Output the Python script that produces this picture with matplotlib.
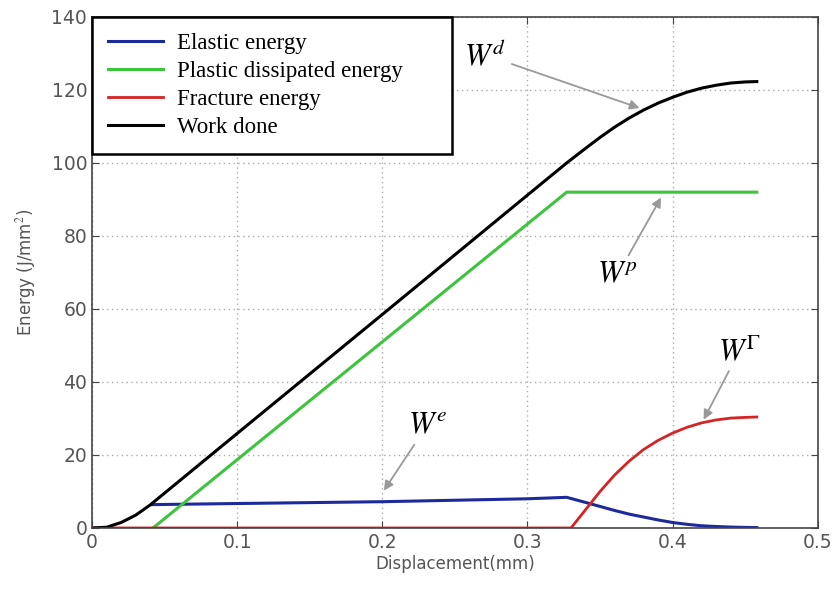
import matplotlib.pyplot as plt

# Energy curves vs displacement (values in J/mm^2)
x_work = [0, 0.01, 0.02, 0.03, 0.04, 0.1, 0.2, 0.3, 0.327, 0.34, 0.35, 0.36,
          0.37, 0.38, 0.39, 0.40, 0.41, 0.42, 0.43, 0.44, 0.45, 0.458]
work_done = [0, 0.2, 1.5, 3.5, 6.3, 25.9, 58.5, 91.2, 100, 104.0, 107.0, 109.8,
             112.3, 114.5, 116.4, 118.0, 119.4, 120.5, 121.3, 121.9, 122.2, 122.3]

x_plastic = [0.042, 0.327, 0.458]
plastic = [0, 92, 92]

x_elastic = [0.041, 0.1, 0.2, 0.3, 0.327, 0.34, 0.35, 0.36, 0.37, 0.38, 0.39,
             0.40, 0.41, 0.42, 0.43, 0.44, 0.45, 0.458]
elastic = [6.4, 6.7, 7.2, 8.0, 8.4, 7.0, 5.9, 4.8, 3.8, 3.0, 2.2,
           1.5, 1.0, 0.6, 0.4, 0.25, 0.15, 0.1]

x_fracture = [0, 0.33, 0.34, 0.35, 0.36, 0.37, 0.38, 0.39, 0.40, 0.41, 0.42,
              0.43, 0.44, 0.45, 0.458]
fracture = [0, 0, 5, 10, 14.5, 18.3, 21.5, 24, 26, 27.6, 28.8, 29.6, 30.1, 30.3, 30.4]

xticks = [0, 0.1, 0.2, 0.3, 0.4, 0.5]
xtick_labels = ["0", "0.1", "0.2", "0.3", "0.4", "0.5"]
yticks = [0, 20, 40, 60, 80, 100, 120, 140]

plt.rcParams['mathtext.fontset'] = 'stix'

fig = plt.figure(figsize=(8.37, 5.89), dpi=100)
ax = fig.add_axes([0.110, 0.1036, 0.867, 0.8676])

ax.plot(x_elastic, elastic, color="#1c2a9a", lw=2.2, label="Elastic energy")
ax.plot(x_plastic, plastic, color="#3dc43d", lw=2.2, label="Plastic dissipated energy")
ax.plot(x_fracture, fracture, color="#d42424", lw=2.0, label="Fracture energy")
ax.plot(x_work, work_done, color="black", lw=2.2, label="Work done")

ax.set_xlim(0, 0.5)
ax.set_ylim(0, 140)
ax.set_xticks(xticks)
ax.set_xticklabels(xtick_labels)
ax.set_yticks(yticks)
ax.grid(True, linestyle=(0, (1, 2.5)), color="#aaaaaa", linewidth=1)
ax.tick_params(direction="in", top=True, right=True, labelsize=13.5,
               labelcolor="#555555", color="#444444", length=5)
for s in ax.spines.values():
    s.set_color("#444444")
    s.set_linewidth(1.2)

ax.set_xlabel("Displacement(mm)", fontsize=12, color="#555555", labelpad=2)
ax.set_ylabel("Energy (J/mm$^2$)", fontsize=12, color="#555555", labelpad=10)

# legend box stretched to a fixed width, like the original figure
leg = ax.legend(loc="upper left", bbox_to_anchor=(0, 0, 0.496, 1), mode="expand",
                borderaxespad=0, fancybox=False, framealpha=1,
                handlelength=2.4, handletextpad=0.6,
                prop={"family": "Liberation Serif", "size": 16.5},
                labelspacing=0.3, borderpad=0.7)
leg.get_frame().set_edgecolor("black")
leg.get_frame().set_linewidth(1.8)

# labels with arrows pointing to each curve
arrow = dict(arrowstyle="-|>", color="#999999", lw=1.3, mutation_scale=14)
ax.annotate("$W^d$", xy=(0.379, 114.8), xytext=(0.271, 129.6), fontsize=22,
            ha="center", va="center", arrowprops=arrow)
ax.annotate("$W^p$", xy=(0.393, 91.2), xytext=(0.362, 69.3), fontsize=22,
            ha="center", va="center", arrowprops=arrow)
ax.annotate("$W^\\Gamma$", xy=(0.4205, 29), xytext=(0.446, 48.5), fontsize=22,
            ha="center", va="center", arrowprops=arrow)
ax.annotate("$W^e$", xy=(0.200, 9.6), xytext=(0.231, 28.2), fontsize=22,
            ha="center", va="center", arrowprops=arrow)

fig.savefig("out.png", dpi=100)
